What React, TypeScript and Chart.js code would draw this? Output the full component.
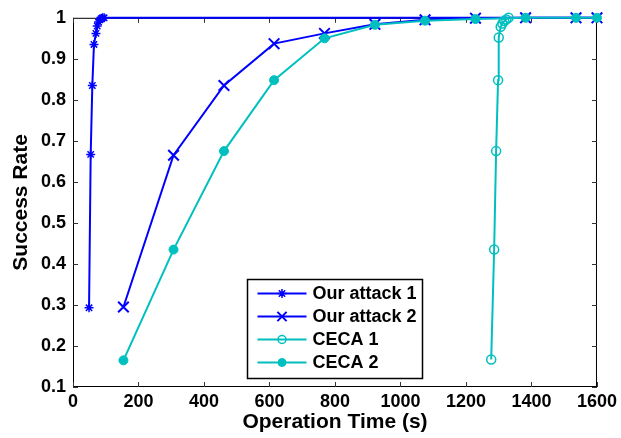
import React, { useEffect, useRef } from "react";
import { Chart, registerables } from "chart.js";
import { drawPoint } from "chart.js/helpers";

Chart.register(...registerables);

const attack1X = [49, 54, 59, 64, 70, 74, 78, 82, 86, 90, 95, 1600];
const attack1Y = [0.293, 0.667, 0.835, 0.935, 0.962, 0.98, 0.99, 0.995, 0.998, 1, 1, 1];
const attack2X = [154, 307, 461, 614, 768, 922, 1075, 1229, 1382, 1536, 1600];
const attack2Y = [0.295, 0.665, 0.835, 0.937, 0.962, 0.984, 0.995, 0.999, 1, 1, 1];
const ceca1X = [1277, 1286, 1292, 1298, 1300, 1306, 1311, 1317, 1323, 1330];
const ceca1Y = [0.167, 0.435, 0.675, 0.848, 0.952, 0.978, 0.986, 0.992, 0.996, 1];
const ceca2X = [154, 307, 461, 614, 768, 922, 1075, 1229, 1382, 1536, 1600];
const ceca2Y = [0.165, 0.435, 0.675, 0.848, 0.95, 0.983, 0.993, 0.997, 1, 1, 1];

const seriesLabels = ["Our attack 1", "Our attack 2", "CECA 1", "CECA 2"];
const xTickLabels = ["0", "200", "400", "600", "800", "1000", "1200", "1400", "1600"];
const yTickLabels = ["0.1", "0.2", "0.3", "0.4", "0.5", "0.6", "0.7", "0.8", "0.9", "1"];

const BLUE = "#0000ff";
const CYAN = "#00bfbf";
const FONT = "'Liberation Sans', Arial, sans-serif";

const pts = (xs: number[], ys: number[]) => xs.map((x, i) => ({ x, y: ys[i] }));

const boxPlugin = {
  id: "boxTicks",
  beforeDatasetsDraw(chart: any) {
    const { ctx, chartArea: a } = chart;
    const xs = chart.scales.x;
    const ys = chart.scales.y;
    ctx.save();
    ctx.strokeStyle = "#000";
    ctx.lineWidth = 1;
    ctx.strokeRect(a.left + 0.5, a.top + 0.5, a.right - a.left - 1, a.bottom - a.top - 1);
    ctx.strokeStyle = "#333";
    const tl = 5;
    ctx.beginPath();
    xs.ticks.forEach((t: any) => {
      const px = Math.round(xs.getPixelForValue(t.value)) + 0.5;
      ctx.moveTo(px, a.bottom);
      ctx.lineTo(px, a.bottom - tl);
      ctx.moveTo(px, a.top);
      ctx.lineTo(px, a.top + tl);
    });
    ys.ticks.forEach((t: any) => {
      const py = Math.round(ys.getPixelForValue(t.value)) + 0.5;
      ctx.moveTo(a.left, py);
      ctx.lineTo(a.left + tl, py);
      ctx.moveTo(a.right, py);
      ctx.lineTo(a.right - tl, py);
    });
    ctx.stroke();
    ctx.restore();
  },
};

const legendPlugin = {
  id: "insideLegend",
  afterDraw(chart: any) {
    const { ctx, chartArea: a } = chart;
    const w = 175;
    const h = 99;
    const cx = (a.left + a.right) / 2;
    const left = Math.round(cx - w / 2) + 0.5;
    const top = Math.round(a.bottom - 9 - h) + 0.5;
    ctx.save();
    ctx.fillStyle = "#fff";
    ctx.fillRect(left, top, w, h);
    ctx.strokeStyle = "#000";
    ctx.lineWidth = 1.5;
    ctx.strokeRect(left, top, w, h);
    ctx.font = `bold 18px ${FONT}`;
    ctx.textBaseline = "middle";
    ctx.textAlign = "left";
    chart.data.datasets.forEach((ds: any, i: number) => {
      const y = top + 14 + i * 23;
      const x0 = left + 10;
      const x1 = left + 59;
      ctx.strokeStyle = ds.borderColor;
      ctx.lineWidth = 2;
      ctx.beginPath();
      ctx.moveTo(x0, y);
      ctx.lineTo(x1, y);
      ctx.stroke();
      ctx.fillStyle = ds.pointBackgroundColor;
      ctx.strokeStyle = ds.pointBorderColor;
      ctx.lineWidth = ds.pointBorderWidth;
      drawPoint(ctx, { pointStyle: ds.pointStyle, radius: ds.legendRadius, rotation: 0, borderWidth: ds.pointBorderWidth }, (x0 + x1) / 2, y);
      ctx.fillStyle = "#000";
      ctx.fillText(ds.label, left + 65, y + 1);
    });
    ctx.restore();
  },
};

export default function App() {
  const ref = useRef<HTMLCanvasElement>(null);
  useEffect(() => {
    document.body.style.margin = "0";
    Chart.defaults.font.family = FONT;
    const lastHidden = attack1X.map((_, i) => (i === attack1X.length - 1 ? 0 : 4.5));
    const chart = new Chart(ref.current!, {
      type: "line",
      data: {
        datasets: [
          {
            label: seriesLabels[0],
            data: pts(attack1X, attack1Y),
            borderColor: BLUE,
            borderWidth: 2,
            pointStyle: "star",
            pointRadius: lastHidden,
            pointBorderColor: BLUE,
            pointBackgroundColor: BLUE,
            pointBorderWidth: 1.5,
            legendRadius: 4.5,
            clip: false,
            order: 3,
          } as any,
          {
            label: seriesLabels[1],
            data: pts(attack2X, attack2Y),
            borderColor: BLUE,
            borderWidth: 2,
            pointStyle: "crossRot",
            pointRadius: 7.5,
            pointBorderColor: BLUE,
            pointBackgroundColor: BLUE,
            pointBorderWidth: 2,
            legendRadius: 6.5,
            clip: false,
            order: 2,
          } as any,
          {
            label: seriesLabels[2],
            data: pts(ceca1X, ceca1Y),
            borderColor: CYAN,
            borderWidth: 2,
            pointStyle: "circle",
            pointRadius: 4.5,
            pointBorderColor: CYAN,
            pointBackgroundColor: "rgba(0,0,0,0)",
            pointBorderWidth: 1.5,
            legendRadius: 4,
            clip: false,
            order: 1,
          } as any,
          {
            label: seriesLabels[3],
            data: pts(ceca2X, ceca2Y),
            borderColor: CYAN,
            borderWidth: 2,
            pointStyle: "circle",
            pointRadius: 4.5,
            pointBorderColor: CYAN,
            pointBackgroundColor: CYAN,
            pointBorderWidth: 1,
            legendRadius: 4,
            clip: false,
            order: 0,
          } as any,
        ],
      },
      options: {
        responsive: false,
        animation: false,
        layout: { padding: { top: 17, right: 21, left: 0, bottom: 0 } },
        plugins: { legend: { display: false }, tooltip: { enabled: false } },
        elements: { line: { tension: 0 } },
        scales: {
          x: {
            type: "linear",
            min: 0,
            max: 1600,
            grid: { display: false, drawTicks: false },
            border: { display: false },
            afterBuildTicks: (s: any) => {
              s.ticks = xTickLabels.map((l) => ({ value: Number(l) }));
            },
            afterFit: (s: any) => {
              s.height = 51;
            },
            ticks: {
              color: "#000",
              padding: 4,
              maxRotation: 0,
              font: { size: 18, weight: "bold" },
              callback: (_v: any, i: number) => xTickLabels[i],
            },
            title: {
              display: true,
              text: "Operation Time (s)",
              color: "#000",
              font: { size: 21, weight: "bold" },
              padding: { top: 0, bottom: 3 },
            },
          },
          y: {
            type: "linear",
            min: 0.1,
            max: 1,
            grid: { display: false, drawTicks: false },
            border: { display: false },
            afterBuildTicks: (s: any) => {
              s.ticks = yTickLabels.map((l) => ({ value: Number(l) }));
            },
            afterFit: (s: any) => {
              s.width = 73;
            },
            ticks: {
              color: "#000",
              padding: 7,
              font: { size: 18, weight: "bold" },
              callback: (_v: any, i: number) => yTickLabels[i],
            },
            title: {
              display: true,
              text: "Success Rate",
              color: "#000",
              font: { size: 21, weight: "bold" },
              padding: { top: 9, bottom: 0 },
            },
          },
        },
      } as any,
      plugins: [boxPlugin, legendPlugin],
    });
    return () => chart.destroy();
  }, []);
  return (
    <div style={{ width: 621, height: 438 }}>
      <canvas ref={ref} width={621} height={438} />
    </div>
  );
}
